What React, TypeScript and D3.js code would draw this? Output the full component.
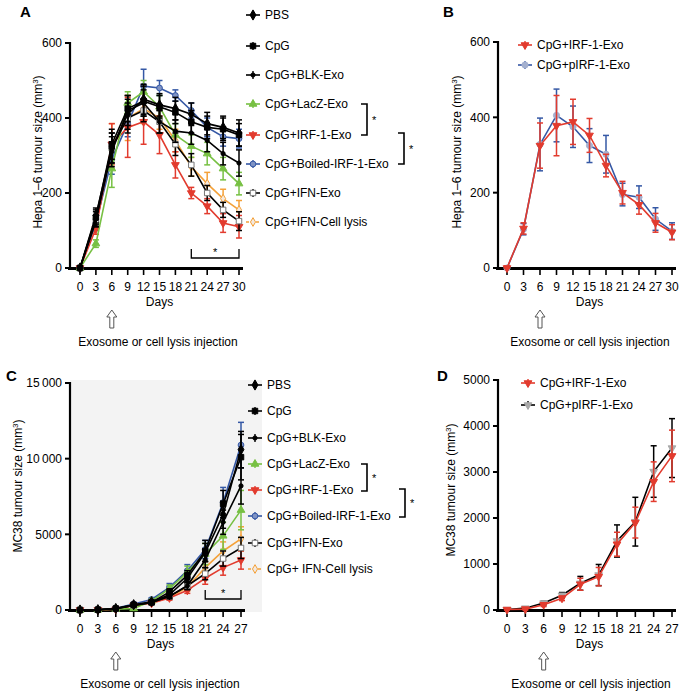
import React, { useEffect, useRef } from 'react';
import * as d3 from 'd3';

const FONT = '"Liberation Sans", Arial, Helvetica, sans-serif';
const FS = 12;

// days
const daysHepa = [0, 3, 6, 9, 12, 15, 18, 21, 24, 27, 30];
const daysMC38 = [0, 3, 6, 9, 12, 15, 18, 21, 24, 27];

const groupsA = ['PBS', 'CpG', 'CpG+BLK-Exo', 'CpG+LacZ-Exo', 'CpG+IRF-1-Exo', 'CpG+Boiled-IRF-1-Exo', 'CpG+IFN-Exo', 'CpG+IFN-Cell lysis'];
const groupsC = ['PBS', 'CpG', 'CpG+BLK-Exo', 'CpG+LacZ-Exo', 'CpG+IRF-1-Exo', 'CpG+Boiled-IRF-1-Exo', 'CpG+IFN-Exo', 'CpG+ IFN-Cell lysis'];
const groupsB = ['CpG+IRF-1-Exo', 'CpG+pIRF-1-Exo'];

// panel A - Hepa 1-6
const hepaPBS = [0, 140, 320, 410, 450, 435, 425, 410, 385, 375, 360];
const hepaPBSErr = [5, 20, 40, 40, 40, 30, 30, 30, 30, 30, 35];
const hepaCpG = [0, 135, 330, 425, 445, 430, 415, 390, 375, 370, 355];
const hepaCpGErr = [5, 20, 40, 35, 40, 30, 30, 30, 30, 30, 30];
const hepaBLK = [0, 130, 310, 420, 440, 390, 365, 360, 340, 305, 280];
const hepaBLKErr = [5, 20, 40, 40, 35, 30, 30, 30, 30, 30, 35];
const hepaLacZ = [0, 65, 265, 440, 470, 430, 355, 325, 305, 265, 225];
const hepaLacZErr = [5, 10, 50, 30, 30, 30, 30, 30, 30, 30, 30];
const hepaIRF = [0, 105, 330, 375, 390, 355, 275, 200, 165, 120, 110];
const hepaIRFErr = [5, 15, 55, 80, 60, 50, 35, 15, 20, 25, 30];
const hepaBoiled = [0, 120, 290, 385, 485, 480, 460, 420, 375, 350, 345];
const hepaBoiledErr = [5, 20, 40, 35, 45, 20, 15, 20, 25, 25, 25];
const hepaIFNExo = [0, 125, 320, 400, 420, 390, 330, 275, 200, 155, 125];
const hepaIFNExoErr = [5, 15, 40, 40, 30, 30, 30, 30, 20, 20, 25];
const hepaLysis = [0, 120, 325, 400, 425, 400, 340, 270, 225, 185, 155];
const hepaLysisErr = [5, 15, 60, 60, 40, 30, 30, 25, 30, 25, 25];

// panel B
const hepaBIRF = [0, 105, 325, 378, 388, 352, 272, 200, 168, 120, 95];
const hepaBIRFErr = [5, 15, 60, 80, 60, 45, 30, 30, 25, 25, 20];
const hepaBpIRF = [0, 103, 328, 405, 375, 325, 302, 195, 188, 130, 98];
const hepaBpIRFErr = [5, 15, 70, 70, 55, 45, 50, 30, 30, 30, 22];

// panel C - MC38
const mcPBS = [0, 20, 100, 350, 550, 1000, 2100, 3800, 6300, 10600];
const mcPBSErr = [10, 20, 50, 80, 100, 150, 300, 600, 900, 1200];
const mcCpG = [0, 20, 100, 350, 500, 1200, 2300, 3900, 7000, 10100];
const mcCpGErr = [10, 20, 50, 80, 100, 200, 300, 700, 900, 1500];
const mcBLK = [0, 20, 80, 300, 500, 900, 1600, 3300, 5800, 8200];
const mcBLKErr = [10, 20, 50, 80, 100, 150, 250, 500, 800, 1200];
const mcLacZ = [0, 20, 60, 100, 600, 1400, 2500, 3700, 4900, 6600];
const mcLacZErr = [10, 20, 40, 60, 100, 250, 400, 700, 900, 1300];
const mcIRF = [0, 10, 50, 300, 450, 800, 1300, 2100, 2800, 3300];
const mcIRFErr = [10, 20, 40, 60, 80, 150, 200, 400, 500, 600];
const mcBoiled = [0, 20, 120, 400, 700, 1500, 2600, 4000, 7100, 10900];
const mcBoiledErr = [10, 20, 50, 80, 100, 250, 400, 600, 1000, 1500];
const mcIFNExo = [0, 20, 80, 300, 500, 900, 1600, 2400, 3400, 4100];
const mcIFNExoErr = [10, 20, 40, 60, 80, 150, 250, 400, 500, 700];
const mcLysis = [0, 20, 80, 300, 500, 850, 1500, 2800, 3900, 4700];
const mcLysisErr = [10, 20, 40, 60, 80, 150, 250, 400, 600, 800];

// panel D
const mcDIRF = [10, 20, 115, 255, 560, 725, 1430, 1900, 2790, 3350];
const mcDIRFErr = [20, 30, 40, 50, 130, 200, 260, 335, 430, 560];
const mcDpIRF = [10, 40, 150, 320, 580, 760, 1500, 1920, 3010, 3520];
const mcDpIRFErr = [20, 30, 40, 60, 150, 230, 350, 530, 560, 640];

const RED = '#e23b2e';
const GREEN = '#77c043';
const BLUE = '#3558a5';
const ORANGE = '#f4a139';

// legend order: PBS, CpG, BLK, LacZ, IRF-1, Boiled, IFN-Exo, IFN-Cell lysis
const styleA = [
  { line: '#000', sym: 'diamond', fill: '#000', stroke: '#000', size: 30 },
  { line: '#000', sym: 'square', fill: '#000', stroke: '#000', size: 30 },
  { line: '#000', sym: 'circle', fill: '#000', stroke: '#000', size: 14 },
  { line: GREEN, sym: 'triangle', fill: GREEN, stroke: GREEN, size: 26 },
  { line: RED, sym: 'triangleDown', fill: RED, stroke: RED, size: 26 },
  { line: BLUE, sym: 'circle', fill: '#7f93c4', stroke: BLUE, size: 26 },
  { line: '#000', sym: 'square', fill: '#fff', stroke: '#777', size: 30 },
  { line: ORANGE, sym: 'diamond', fill: '#f3e9e0', stroke: ORANGE, size: 22, dash: '3,2' },
];
const drawOrder = [7, 5, 4, 3, 6, 2, 1, 0];

const styleB = [
  { line: RED, sym: 'triangleDown', fill: RED, stroke: RED, size: 26 },
  { line: BLUE, sym: 'circle', fill: '#a4b0cf', stroke: '#a4b0cf', size: 30 },
];
const styleD = [
  { line: RED, sym: 'triangleDown', fill: RED, stroke: RED, size: 26 },
  { line: '#000', sym: 'triangleDown', fill: '#aaa', stroke: '#aaa', size: 26 },
];

function symbolPath(name: string, size: number) {
  const map: any = {
    diamond: d3.symbolDiamond,
    square: d3.symbolSquare,
    circle: d3.symbolCircle,
    triangle: d3.symbolTriangle,
    triangleDown: d3.symbolTriangle,
  };
  return d3.symbol().type(map[name]).size(size)() as string;
}

function drawPanel(svg: any, cfg: any) {
  const x = d3.scaleLinear().domain(cfg.xDomain).range(cfg.xRange);
  const y = d3.scaleLinear().domain(cfg.yDomain).range(cfg.yRange);
  const g = svg.append('g');
  const y0 = y(0);

  if (cfg.bg) {
    g.append('rect')
      .attr('x', cfg.axisX).attr('y', y(cfg.yDomain[1]) - 3)
      .attr('width', cfg.bgRight - cfg.axisX).attr('height', y0 - y(cfg.yDomain[1]) + 5)
      .attr('fill', '#f3f3f3');
  }

  // y axis
  g.append('line')
    .attr('x1', cfg.axisX).attr('x2', cfg.axisX)
    .attr('y1', y(cfg.yDomain[1]) - 1).attr('y2', y0)
    .attr('stroke', '#000').attr('stroke-width', 2.2);
  cfg.yTicks.forEach((t: number) => {
    g.append('line')
      .attr('x1', cfg.axisX - 5).attr('x2', cfg.axisX)
      .attr('y1', y(t)).attr('y2', y(t))
      .attr('stroke', '#000').attr('stroke-width', 2);
    g.append('text')
      .attr('x', cfg.axisX - 8).attr('y', y(t)).attr('dy', '0.35em')
      .attr('text-anchor', 'end').attr('font-size', FS).attr('font-family', FONT)
      .text(cfg.yFmt(t));
  });

  // x axis
  const lastX = x(cfg.xDomain[1]);
  g.append('line')
    .attr('x1', cfg.axisX - 2).attr('x2', lastX + 4)
    .attr('y1', y0 + 0.5).attr('y2', y0 + 0.5)
    .attr('stroke', '#000').attr('stroke-width', 3.2);
  cfg.days.forEach((dd: number) => {
    g.append('line')
      .attr('x1', x(dd)).attr('x2', x(dd))
      .attr('y1', y0).attr('y2', y0 + 7)
      .attr('stroke', '#000').attr('stroke-width', 1.6);
    g.append('text')
      .attr('x', x(dd)).attr('y', y0 + 23)
      .attr('text-anchor', 'middle').attr('font-size', FS).attr('font-family', FONT)
      .text(dd);
  });

  const mid = (cfg.xRange[0] + cfg.xRange[1]) / 2;
  g.append('text')
    .attr('x', mid).attr('y', y0 + 38)
    .attr('text-anchor', 'middle').attr('font-size', FS).attr('font-family', FONT)
    .text('Days');

  // injection arrow at day 6
  const ax = x(6);
  const at = y0 + 42;
  const ab = y0 + 60;
  g.append('path')
    .attr('d', `M${ax},${at} L${ax + 5},${at + 7} L${ax + 2},${at + 7} L${ax + 2},${ab} L${ax - 2},${ab} L${ax - 2},${at + 7} L${ax - 5},${at + 7} Z`)
    .attr('fill', '#fff').attr('stroke', '#555').attr('stroke-width', 1);
  g.append('text')
    .attr('x', cfg.injX).attr('y', y0 + 78)
    .attr('text-anchor', 'middle').attr('font-size', FS).attr('font-family', FONT)
    .text('Exosome or cell lysis injection');

  // y label
  const yl = g.append('text')
    .attr('transform', `translate(${cfg.labelX},${cfg.labelY}) rotate(-90)`)
    .attr('text-anchor', 'middle').attr('font-size', FS).attr('font-family', FONT);
  yl.append('tspan').text(cfg.yLabel + ' (mm');
  yl.append('tspan').attr('font-size', 8).attr('dy', -4).text('3');
  yl.append('tspan').attr('dy', 4).text(')');

  // panel letter
  g.append('text')
    .attr('x', cfg.letterX).attr('y', cfg.letterY)
    .attr('font-size', 15).attr('font-weight', 'bold').attr('font-family', FONT)
    .text(cfg.letter);

  // series
  const line = d3.line<number>()
    .x((d, i) => x(cfg.days[i]))
    .y(d => y(d));
  cfg.order.forEach((si: number) => {
    const s = cfg.series[si];
    const st = cfg.styles[si];
    const col = st.line;
    const errCol = st.errColor || col;
    const sg = g.append('g');
    s.mean.forEach((m: number, i: number) => {
      const xx = x(cfg.days[i]);
      const e = s.err[i];
      const top = y(m + e);
      const bot = y(Math.max(m - e, 0));
      sg.append('line').attr('x1', xx).attr('x2', xx).attr('y1', top).attr('y2', bot)
        .attr('stroke', errCol).attr('stroke-width', 1.5);
      [top, bot].forEach(v => {
        sg.append('line').attr('x1', xx - 3).attr('x2', xx + 3).attr('y1', v).attr('y2', v)
          .attr('stroke', errCol).attr('stroke-width', 1.5);
      });
    });
    sg.append('path').datum(s.mean).attr('d', line)
      .attr('fill', 'none').attr('stroke', col).attr('stroke-width', 1.6);
    s.mean.forEach((m: number, i: number) => {
      sg.append('path')
        .attr('d', symbolPath(st.sym, st.size))
        .attr('transform', `translate(${x(cfg.days[i])},${y(m)})${st.sym === 'triangleDown' ? ' rotate(180)' : ''}`)
        .attr('fill', st.fill).attr('stroke', st.stroke).attr('stroke-width', 1);
    });
  });

  // legend
  cfg.legend.names.forEach((name: string, i: number) => {
    const st = cfg.styles[i];
    const ly = cfg.legend.rows[i];
    const lx = cfg.legend.x;
    g.append('line').attr('x1', lx - 7).attr('x2', lx + 7).attr('y1', ly).attr('y2', ly)
      .attr('stroke', st.line).attr('stroke-width', 1.6)
      .attr('stroke-dasharray', st.dash || null);
    g.append('line').attr('x1', lx).attr('x2', lx).attr('y1', ly - 4).attr('y2', ly + 4)
      .attr('stroke', st.errColor || st.line).attr('stroke-width', 1.4);
    g.append('path')
      .attr('d', symbolPath(st.sym, st.size))
      .attr('transform', `translate(${lx},${ly})${st.sym === 'triangleDown' ? ' rotate(180)' : ''}`)
      .attr('fill', st.fill).attr('stroke', st.stroke).attr('stroke-width', 1);
    g.append('text')
      .attr('x', cfg.legend.textX).attr('y', ly).attr('dy', '0.35em')
      .attr('font-size', FS).attr('font-family', FONT)
      .text(name);
  });

  // bracket annotations next to legend
  (cfg.legend.brackets || []).forEach((b: any) => {
    g.append('path')
      .attr('d', `M${b.x - 6},${b.y1} L${b.x},${b.y1} L${b.x},${b.y2} L${b.x - 6},${b.y2}`)
      .attr('fill', 'none').attr('stroke', '#000').attr('stroke-width', 1.6);
    g.append('text')
      .attr('x', b.x + 5).attr('y', (b.y1 + b.y2) / 2 + 4)
      .attr('font-size', 11).attr('font-family', FONT).text('*');
  });

  // significance bracket inside plot
  if (cfg.sig) {
    const x1 = x(cfg.sig[0]);
    const x2 = x(cfg.sig[1]);
    const by = y0 - cfg.sigOffset;
    g.append('path')
      .attr('d', `M${x1},${by - 9} L${x1},${by} L${x2},${by} L${x2},${by - 9}`)
      .attr('fill', 'none').attr('stroke', '#000').attr('stroke-width', 1.3);
    g.append('text')
      .attr('x', (x1 + x2) / 2).attr('y', by - 2)
      .attr('text-anchor', 'middle').attr('font-size', 11).attr('font-family', FONT).text('*');
  }
}

const fmtThin = (v: number) => (v >= 10000 ? d3.format(',')(v).replace(',', '\u2009') : String(v));

export default function App() {
  const ref = useRef<SVGSVGElement>(null);

  useEffect(() => {
    const svg = d3.select(ref.current);
    svg.selectAll('*').remove();

    drawPanel(svg, {
      letter: 'A', letterX: 20, letterY: 17,
      days: daysHepa, xDomain: [0, 30], xRange: [80, 239],
      yDomain: [0, 600], yRange: [268, 43], yTicks: [0, 200, 400, 600], yFmt: String,
      axisX: 70, labelX: 42, labelY: 152, yLabel: 'Hepa 1\u20136 tumour size',
      injX: 158,
      series: [
        { mean: hepaPBS, err: hepaPBSErr },
        { mean: hepaCpG, err: hepaCpGErr },
        { mean: hepaBLK, err: hepaBLKErr },
        { mean: hepaLacZ, err: hepaLacZErr },
        { mean: hepaIRF, err: hepaIRFErr },
        { mean: hepaBoiled, err: hepaBoiledErr },
        { mean: hepaIFNExo, err: hepaIFNExoErr },
        { mean: hepaLysis, err: hepaLysisErr },
      ],
      styles: styleA, order: drawOrder,
      legend: {
        names: groupsA, x: 253, textX: 265,
        rows: [15, 46, 75, 104, 135, 164, 193, 222],
        brackets: [{ x: 367, y1: 104, y2: 135 }, { x: 404, y1: 133, y2: 164 }],
      },
      sig: [21, 30], sigOffset: 10,
    });

    drawPanel(svg, {
      letter: 'B', letterX: 443, letterY: 17,
      days: daysHepa, xDomain: [0, 30], xRange: [507, 672],
      yDomain: [0, 600], yRange: [268, 42], yTicks: [0, 200, 400, 600], yFmt: String,
      axisX: 498, labelX: 461, labelY: 152, yLabel: 'Hepa 1\u20136 tumour size',
      injX: 590,
      series: [
        { mean: hepaBIRF, err: hepaBIRFErr },
        { mean: hepaBpIRF, err: hepaBpIRFErr },
      ],
      styles: [styleB[0], { ...styleB[1], errColor: BLUE }],
      order: [1, 0],
      legend: { names: groupsB, x: 525, textX: 537, rows: [45, 65] },
    });

    drawPanel(svg, {
      letter: 'C', letterX: 6, letterY: 381,
      days: daysMC38, xDomain: [0, 27], xRange: [80, 241],
      yDomain: [0, 15000], yRange: [610, 383], yTicks: [0, 5000, 10000, 15000], yFmt: fmtThin,
      axisX: 70, labelX: 22, labelY: 486, yLabel: 'MC38 tumour size',
      injX: 160, bg: true, bgRight: 262,
      series: [
        { mean: mcPBS, err: mcPBSErr },
        { mean: mcCpG, err: mcCpGErr },
        { mean: mcBLK, err: mcBLKErr },
        { mean: mcLacZ, err: mcLacZErr },
        { mean: mcIRF, err: mcIRFErr },
        { mean: mcBoiled, err: mcBoiledErr },
        { mean: mcIFNExo, err: mcIFNExoErr },
        { mean: mcLysis, err: mcLysisErr },
      ],
      styles: styleA, order: drawOrder,
      legend: {
        names: groupsC, x: 255, textX: 267,
        rows: [385, 411, 438, 464, 490, 516, 543, 569],
        brackets: [{ x: 367, y1: 464, y2: 491 }, { x: 405, y1: 489, y2: 517 }],
      },
      sig: [21, 27], sigOffset: 11,
    });

    drawPanel(svg, {
      letter: 'D', letterX: 437, letterY: 381,
      days: daysMC38, xDomain: [0, 27], xRange: [507, 672],
      yDomain: [0, 5000], yRange: [610, 380], yTicks: [0, 1000, 2000, 3000, 4000, 5000], yFmt: String,
      axisX: 498, labelX: 455, labelY: 490, yLabel: 'MC38  tumour size',
      injX: 591,
      series: [
        { mean: mcDIRF, err: mcDIRFErr },
        { mean: mcDpIRF, err: mcDpIRFErr },
      ],
      styles: styleD, order: [1, 0],
      legend: { names: groupsB, x: 528, textX: 540, rows: [383, 405] },
    });
  }, []);

  return (
    <svg ref={ref} width={680} height={691}
      style={{ position: 'absolute', left: 0, top: 0, background: '#fff' }} />
  );
}
